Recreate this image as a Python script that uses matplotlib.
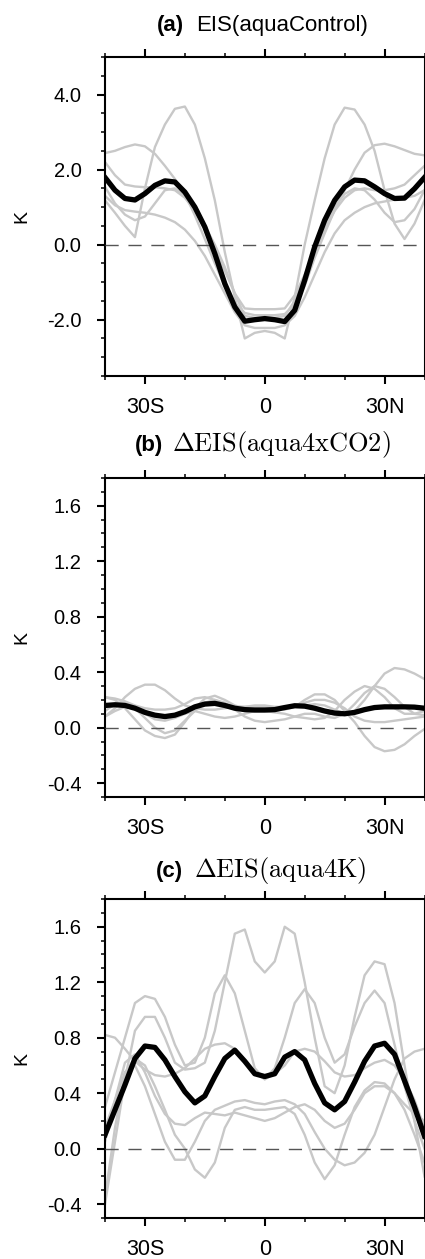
import numpy as np
import matplotlib
matplotlib.use("Agg")
import matplotlib.pyplot as plt
from matplotlib.ticker import MultipleLocator, FixedLocator, FormatStrFormatter

plt.rcParams["font.family"] = ["Liberation Sans", "DejaVu Sans"]
plt.rcParams["mathtext.fontset"] = "cm"
plt.rcParams["axes.unicode_minus"] = False

# latitude grid (deg), negative = south
lat = [-40, -37.5, -35, -32.5, -30, -27.5, -25, -22.5, -20, -17.5, -15, -12.5, -10, -7.5, -5, -2.5,
       0, 2.5, 5, 7.5, 10, 12.5, 15, 17.5, 20, 22.5, 25, 27.5, 30, 32.5, 35, 37.5, 40]

# (a) EIS control: ensemble mean and individual models
eis_mean = [1.79, 1.45, 1.23, 1.19, 1.36, 1.58, 1.70, 1.67, 1.40, 1.00, 0.47, -0.24, -1.04, -1.66, -2.04, -2.00,
            -1.97, -2.00, -2.05, -1.75, -0.95, -0.06, 0.65, 1.18, 1.54, 1.72, 1.70, 1.54, 1.36, 1.23, 1.24, 1.49, 1.79]
eis_m1 = [1.18, 0.85, 0.50, 0.20, 1.50, 2.60, 3.20, 3.62, 3.68, 3.20, 2.30, 1.18, -0.20, -1.40, -2.50, -2.35,
          -2.30, -2.35, -2.50, -1.40, 0.00, 1.18, 2.30, 3.20, 3.65, 3.60, 3.20, 2.50, 1.45, 0.56, 0.15, 0.56, 1.18]
eis_m2 = [2.44, 2.50, 2.60, 2.67, 2.62, 2.42, 2.10, 1.75, 1.35, 0.78, 0.15, -0.50, -1.10, -1.55, -1.82, -1.88,
          -1.88, -1.88, -1.85, -1.60, -1.10, -0.35, 0.30, 0.92, 1.45, 2.00, 2.45, 2.65, 2.69, 2.62, 2.52, 2.42, 2.38]
eis_m3 = [2.20, 1.85, 1.60, 1.55, 1.53, 1.53, 1.50, 1.45, 1.25, 0.90, 0.45, -0.10, -0.70, -1.30, -1.70, -1.72,
          -1.72, -1.72, -1.70, -1.35, -0.80, -0.20, 0.40, 0.90, 1.25, 1.45, 1.50, 1.45, 1.45, 1.50, 1.60, 1.85, 2.10]
eis_m4 = [1.54, 1.10, 0.80, 0.65, 0.75, 1.10, 1.45, 1.50, 1.30, 0.95, 0.50, 0.00, -0.60, -1.30, -1.90, -1.95,
          -1.95, -1.95, -1.90, -1.50, -0.90, -0.20, 0.50, 1.00, 1.35, 1.50, 1.45, 1.20, 0.85, 0.60, 0.65, 0.95, 1.45]
eis_m5 = [1.30, 1.05, 0.92, 0.88, 0.85, 0.80, 0.72, 0.60, 0.40, 0.10, -0.30, -0.80, -1.30, -1.80, -2.15, -2.22,
          -2.22, -2.22, -2.15, -1.90, -1.40, -0.80, -0.20, 0.30, 0.65, 0.85, 1.00, 1.10, 1.15, 1.20, 1.25, 1.30, 1.45]

# (b) EIS change, aqua4xCO2
co2_mean = [0.160, 0.165, 0.160, 0.140, 0.110, 0.090, 0.080, 0.090, 0.115, 0.150, 0.170, 0.175, 0.160, 0.140, 0.130, 0.127,
            0.127, 0.130, 0.145, 0.158, 0.155, 0.140, 0.120, 0.105, 0.100, 0.110, 0.130, 0.145, 0.150, 0.150, 0.150, 0.148, 0.140]
co2_m1 = [0.08, 0.14, 0.22, 0.28, 0.31, 0.31, 0.27, 0.21, 0.16, 0.14, 0.13, 0.13, 0.14, 0.15, 0.15, 0.15,
          0.15, 0.14, 0.13, 0.15, 0.20, 0.24, 0.24, 0.20, 0.12, 0.04, -0.06, -0.14, -0.17, -0.16, -0.12, -0.06, -0.01]
co2_m2 = [0.22, 0.20, 0.14, 0.06, -0.02, -0.06, -0.075, -0.05, 0.04, 0.14, 0.21, 0.23, 0.20, 0.16, 0.14, 0.13,
          0.13, 0.13, 0.14, 0.15, 0.16, 0.17, 0.16, 0.13, 0.10, 0.12, 0.20, 0.30, 0.39, 0.43, 0.42, 0.39, 0.35]
co2_m3 = [0.12, 0.17, 0.18, 0.14, 0.07, 0.00, -0.04, -0.02, 0.05, 0.12, 0.18, 0.20, 0.18, 0.13, 0.08, 0.05,
          0.04, 0.05, 0.06, 0.08, 0.10, 0.10, 0.08, 0.07, 0.10, 0.17, 0.25, 0.30, 0.28, 0.22, 0.15, 0.10, 0.09]
co2_m4 = [0.22, 0.21, 0.19, 0.16, 0.14, 0.13, 0.13, 0.14, 0.17, 0.21, 0.22, 0.20, 0.17, 0.15, 0.15, 0.16,
          0.16, 0.15, 0.15, 0.16, 0.18, 0.20, 0.20, 0.18, 0.14, 0.08, 0.05, 0.04, 0.04, 0.05, 0.06, 0.07, 0.08]
co2_m5 = [0.08, 0.12, 0.15, 0.14, 0.10, 0.06, 0.05, 0.07, 0.10, 0.12, 0.10, 0.08, 0.07, 0.08, 0.10, 0.12,
          0.12, 0.11, 0.10, 0.08, 0.07, 0.06, 0.07, 0.12, 0.20, 0.26, 0.30, 0.28, 0.22, 0.14, 0.10, 0.10, 0.12]

# (c) EIS change, aqua4K
k4_mean = [0.10, 0.28, 0.46, 0.65, 0.74, 0.73, 0.64, 0.52, 0.41, 0.33, 0.38, 0.52, 0.65, 0.71, 0.63, 0.54,
           0.52, 0.54, 0.66, 0.70, 0.64, 0.47, 0.33, 0.28, 0.34, 0.48, 0.63, 0.74, 0.76, 0.68, 0.49, 0.30, 0.09]
k4_m1 = [-0.40, 0.05, 0.50, 0.85, 0.95, 0.95, 0.80, 0.62, 0.57, 0.58, 0.62, 0.85, 1.20, 1.55, 1.58, 1.35,
         1.27, 1.35, 1.60, 1.55, 1.20, 0.80, 0.45, 0.40, 0.60, 0.95, 1.25, 1.35, 1.33, 1.05, 0.60, 0.20, -0.20]
k4_m2 = [0.82, 0.80, 0.72, 0.63, 0.57, 0.53, 0.52, 0.54, 0.58, 0.65, 0.72, 0.75, 0.76, 0.72, 0.62, 0.55,
         0.50, 0.54, 0.60, 0.70, 0.72, 0.70, 0.63, 0.55, 0.52, 0.53, 0.58, 0.62, 0.64, 0.60, 0.50, 0.35, 0.15]
k4_m3 = [0.30, 0.55, 0.80, 1.05, 1.10, 1.08, 0.95, 0.75, 0.60, 0.62, 0.80, 1.12, 1.25, 1.12, 0.85, 0.58,
         0.50, 0.58, 0.80, 1.05, 1.15, 1.05, 0.80, 0.62, 0.68, 0.88, 1.05, 1.14, 1.05, 0.75, 0.45, 0.20, 0.00]
k4_m4 = [0.15, 0.35, 0.55, 0.65, 0.60, 0.45, 0.28, 0.10, 0.00, -0.15, -0.21, -0.10, 0.15, 0.28, 0.30, 0.28,
         0.28, 0.29, 0.30, 0.25, 0.10, -0.10, -0.22, -0.12, 0.10, 0.30, 0.42, 0.48, 0.47, 0.40, 0.28, 0.10, -0.10]
k4_m5 = [-0.35, 0.15, 0.55, 0.60, 0.45, 0.25, 0.05, -0.08, -0.08, 0.05, 0.20, 0.28, 0.31, 0.34, 0.35, 0.33,
         0.32, 0.34, 0.35, 0.32, 0.25, 0.12, 0.00, -0.08, -0.12, -0.10, -0.03, 0.10, 0.30, 0.50, 0.65, 0.70, 0.72]
k4_m6 = [0.05, 0.35, 0.62, 0.68, 0.55, 0.38, 0.25, 0.18, 0.17, 0.22, 0.26, 0.25, 0.24, 0.26, 0.24, 0.22,
         0.20, 0.22, 0.26, 0.30, 0.32, 0.28, 0.20, 0.15, 0.18, 0.28, 0.40, 0.45, 0.45, 0.40, 0.32, 0.25, 0.20]

xticks = [-30, 0, 30]
xticklabels = ["30S", "0", "30N"]

panels = [
    ("(a)", "EIS(aquaControl)", eis_mean, [eis_m1, eis_m2, eis_m3, eis_m4, eis_m5],
     (-3.5, 5.0), [-2.0, 0.0, 2.0, 4.0], 0.5),
    ("(b)", r"$\Delta\mathrm{EIS(aqua4xCO2)}$", co2_mean, [co2_m1, co2_m2, co2_m3, co2_m4, co2_m5],
     (-0.5, 1.8), [-0.4, 0.0, 0.4, 0.8, 1.2, 1.6], 0.1),
    ("(c)", r"$\Delta\mathrm{EIS(aqua4K)}$", k4_mean, [k4_m1, k4_m2, k4_m3, k4_m4, k4_m5, k4_m6],
     (-0.5, 1.8), [-0.4, 0.0, 0.4, 0.8, 1.2, 1.6], 0.1),
]

W, H = 425, 1259
fig = plt.figure(figsize=(W / 100, H / 100), dpi=100)

# axes boxes in pixels: top, bottom
boxes = [(57, 376), (478, 797), (899, 1218)]
# title pieces: right edge of label, left edge of text, baseline (pixels)
title_pos = [(184, 196, 31), (163, 172, 451), (183, 194, 877)]

for (lab, name, mean, models, ylim, yticks, yminor), (top, bot), (xr, xl, yb) in zip(panels, boxes, title_pos):
    ax = fig.add_axes([105 / W, 1 - bot / H, 319.5 / W, (bot - top) / H])
    for m in models:
        ax.plot(lat, m, color="#c8c8c8", lw=1.7, zorder=2)
    ax.axhline(0, color="#555555", lw=1.0, dashes=(9.5, 7), zorder=3)
    ax.plot(lat, mean, color="black", lw=3.8, zorder=4, solid_joinstyle="round")

    ax.set_xlim(-40, 40)
    ax.set_ylim(*ylim)
    ax.xaxis.set_major_locator(FixedLocator(xticks))
    ax.set_xticklabels(xticklabels)
    ax.xaxis.set_minor_locator(MultipleLocator(10))
    ax.yaxis.set_major_locator(FixedLocator(yticks))
    ax.yaxis.set_major_formatter(FormatStrFormatter("%.1f"))
    ax.yaxis.set_minor_locator(MultipleLocator(yminor))

    ax.tick_params(axis="x", which="both", direction="out", top=True, bottom=True)
    ax.tick_params(axis="y", which="both", direction="out", left=True, right=False)
    ax.tick_params(which="major", length=6, width=1.5)
    ax.tick_params(which="minor", length=2.8, width=1.1)
    ax.tick_params(axis="x", which="major", labelsize=15.5, pad=9)
    ax.tick_params(axis="y", which="major", labelsize=14.5, pad=11)
    for s in ax.spines.values():
        s.set_linewidth(1.5)

    ax.set_ylabel("K", fontsize=14)
    ax.yaxis.set_label_coords(-0.233, 0.5)

    fig.text(xr / W, 1 - yb / H, lab, fontsize=16, fontweight="bold", ha="right", va="baseline")
    fig.text(xl / W, 1 - yb / H, name, fontsize=16 if lab == "(a)" else 19, ha="left", va="baseline")

fig.savefig("out.png", dpi=100)
